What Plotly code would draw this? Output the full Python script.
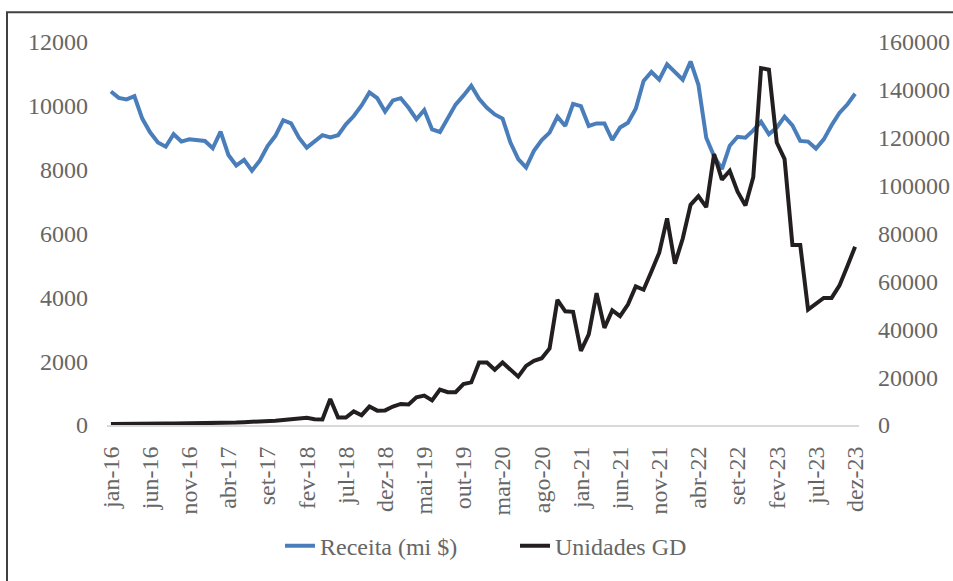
import plotly.graph_objects as go

# monthly categories jan-16 .. dez-23
MESES = ["jan", "fev", "mar", "abr", "mai", "jun", "jul", "ago", "set", "out", "nov", "dez"]
ANOS = ["16", "17", "18", "19", "20", "21", "22", "23"]
categorias = [f"{m}-{a}" for a in ANOS for m in MESES]

receita = [
    10450, 10250, 10200, 10300, 9600, 9170, 8850, 8720, 9110, 8880, 8950, 8930,
    8900, 8670, 9190, 8460, 8130, 8310, 7970, 8280, 8740, 9060, 9550, 9450,
    9000, 8690, 8900, 9080, 9010, 9080, 9420, 9680, 10010, 10420, 10240, 9820,
    10170, 10240, 9940, 9580, 9870, 9260, 9180, 9600, 10040, 10320, 10630, 10220,
    9940, 9730, 9600, 8850, 8330, 8070, 8590, 8930, 9160, 9660, 9370, 10060,
    9990, 9370, 9450, 9450, 8930, 9320, 9470, 9910, 10780, 11060, 10820, 11300,
    11040, 10820, 11390, 10660, 9000, 8420, 8020, 8750, 9030, 9000, 9230, 9500,
    9110, 9320, 9660, 9390, 8900, 8880, 8660, 8950, 9390, 9780, 10040, 10380,
]

unidades_gd = [
    400, 450, 500, 550, 600, 900, 600, 650, 600, 600, 650, 700,
    750, 800, 800, 900, 1000, 1200, 1300, 1200, 1400, 1800, 2100, 2300,
    2400, 3000, 2400, 2300, 10900, 3100, 3100, 5700, 4100, 7700, 6000, 6100,
    7700, 8800, 8600, 11600, 12300, 10300, 14800, 13700, 13700, 17100, 17800, 26100,
    26100, 23100, 26100, 23300, 20200, 24700, 26800, 27900, 32000, 52300, 47500, 47300,
    31000, 37900, 55100, 40600, 47900, 45500, 50300, 57900, 56500, 64100, 72000, 86300,
    67400, 77900, 92000, 95600, 91000, 113200, 102500, 106200, 97500, 91700, 103500, 149100,
    148400, 118000, 111100, 75200, 75200, 48200, 50600, 53100, 53100, 58200, 66200, 74500,
]

tick_cats = categorias[::5]

FONT = "Liberation Serif"
GRAY = "#666666"

fig = go.Figure()
fig.add_trace(go.Scatter(
    x=categorias, y=receita, name="Receita (mi $)", mode="lines",
    line=dict(color="#4a7ebb", width=4),
))
fig.add_trace(go.Scatter(
    x=categorias, y=unidades_gd, name="Unidades GD", mode="lines", yaxis="y2",
    line=dict(color="#231f20", width=4),
))

# plot area in pixels: x 107..859, y 42..428
W, H = 953, 581
L, R, T, B = 107, 94, 42, 153
pw, ph = W - L - R, H - T - B


def px_x(p):
    return (p - L) / pw


def px_y(p):
    return (H - B - p) / ph


# outer chart border (cropped on the right and bottom in the original)
fig.add_shape(
    type="rect", xref="paper", yref="paper",
    x0=px_x(7), x1=px_x(975), y0=px_y(600), y1=px_y(12),
    line=dict(color="#404040", width=2), fillcolor="rgba(0,0,0,0)",
)

fig.update_layout(
    width=W, height=H,
    margin=dict(l=L, r=R, t=T, b=B),
    paper_bgcolor="white", plot_bgcolor="white",
    font=dict(family=FONT, size=24, color=GRAY),
    xaxis=dict(
        type="category", range=[-0.5, 95.5],
        tickmode="array", tickvals=tick_cats, ticktext=tick_cats,
        tickangle=-90, showgrid=False, zeroline=False,
        showline=True, linecolor="#d9d9d9", linewidth=2,
        ticks="", ticklabelstandoff=10, automargin=False,
        tickfont=dict(family=FONT, size=24, color=GRAY),
    ),
    yaxis=dict(
        range=[0, 12000], dtick=2000, tickformat="d",
        showgrid=False, zeroline=False, showline=False,
        ticks="", ticklabelstandoff=18, automargin=False,
        tickfont=dict(family=FONT, size=24, color=GRAY),
    ),
    yaxis2=dict(
        range=[0, 160000], dtick=20000, tickformat="d",
        overlaying="y", side="right",
        showgrid=False, zeroline=False, showline=False,
        ticks="", ticklabelstandoff=18, automargin=False,
        tickfont=dict(family=FONT, size=24, color=GRAY),
    ),
    legend=dict(
        orientation="h", x=px_x(280), xanchor="left",
        y=px_y(550), yanchor="middle",
        entrywidth=190, entrywidthmode="pixels",
        font=dict(family=FONT, size=24, color=GRAY),
        bgcolor="rgba(0,0,0,0)",
    ),
    showlegend=True,
)

fig.write_html(
    "out.html",
    config={"displayModeBar": False},
    post_script="document.body.style.margin='0';document.body.style.overflow='hidden';",
)
